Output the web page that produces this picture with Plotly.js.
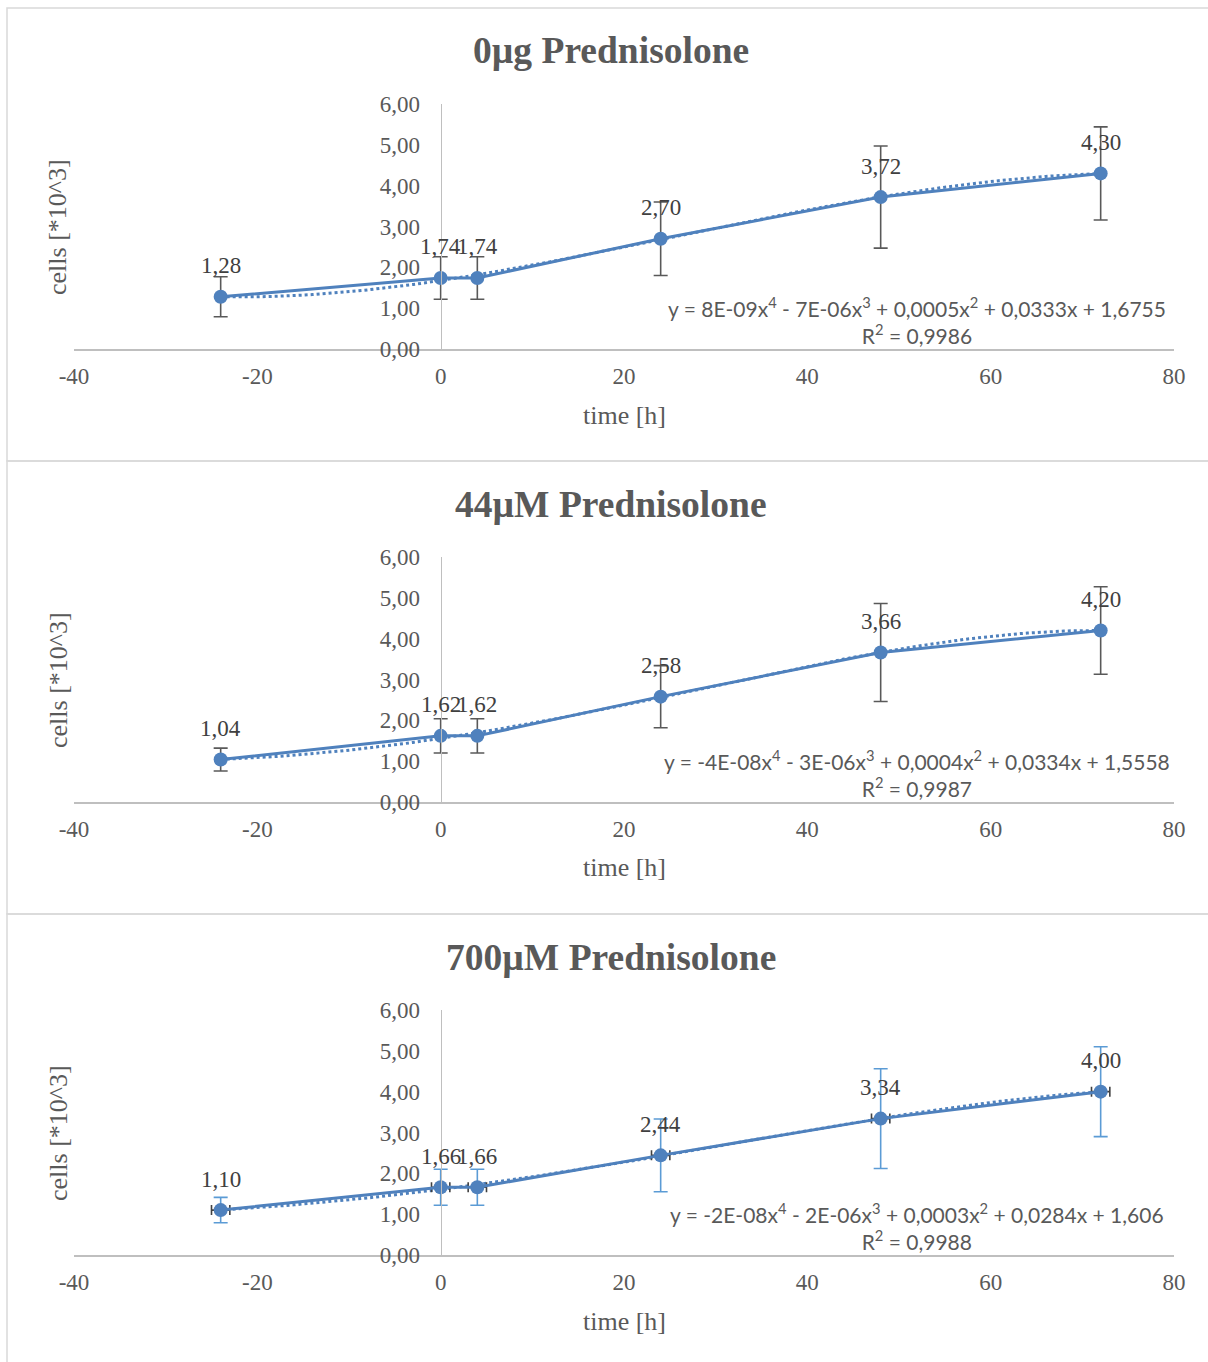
<!DOCTYPE html>
<html>
<head>
<meta charset="utf-8">
<script src="https://cdn.plot.ly/plotly-3.0.1.min.js"></script>
<style>html,body{margin:0;padding:0;background:#fff;}#chart{width:1208px;height:1362px;}</style>
</head>
<body>
<div id="chart"></div>
<script>
// ---- data ----
const timeH = [-24, 0, 4, 24, 48, 72];
const cells0 = [1.28, 1.74, 1.74, 2.70, 3.72, 4.30];
const err0 = [0.49, 0.52, 0.52, 0.90, 1.25, 1.14];
const cells44 = [1.04, 1.62, 1.62, 2.58, 3.66, 4.20];
const err44 = [0.28, 0.42, 0.42, 0.76, 1.20, 1.07];
const cells700 = [1.10, 1.66, 1.66, 2.44, 3.34, 4.00];
const err700 = [0.31, 0.44, 0.44, 0.89, 1.22, 1.10];
const xerr700 = [1, 1, 1, 1, 1, 1];
const chartTitles = ['0µg Prednisolone', '44µM Prednisolone', '700µM Prednisolone'];
const equations = [
  'y = 8E-09x<sup>4</sup> - 7E-06x<sup>3</sup> + 0,0005x<sup>2</sup> + 0,0333x + 1,6755<br>R<sup>2</sup> = 0,9986',
  'y = -4E-08x<sup>4</sup> - 3E-06x<sup>3</sup> + 0,0004x<sup>2</sup> + 0,0334x + 1,5558<br>R<sup>2</sup> = 0,9987',
  'y = -2E-08x<sup>4</sup> - 2E-06x<sup>3</sup> + 0,0003x<sup>2</sup> + 0,0284x + 1,606<br>R<sup>2</sup> = 0,9988'
];
const xTicks = [-40, -20, 0, 20, 40, 60, 80];
const xTickText = ['-40', '-20', '0', '20', '40', '60', '80'];
const yTicks = [0, 1, 2, 3, 4, 5, 6];
const xTitle = 'time [h]';
const yTitle = 'cells [*10^3]';

// ---- styles ----
const W = 1208, H = 1362;
const SERIF = '"Liberation Serif", "Times New Roman", serif';
const SANS = 'Lato, "Open Sans", sans-serif';
const BLUE = '#4F81BD';
const GRAY = '#595959';
const px = v => v / W;
const py = v => 1 - v / H;

// degree-4 least squares trendline (like Excel polynomial trendline)
function polyFit(xs, ys, deg) {
  const s = 72;
  const n = deg + 1;
  const A = [], b = [];
  for (let i = 0; i < n; i++) { A.push(new Array(n).fill(0)); b.push(0); }
  xs.forEach((x, k) => {
    const t = x / s;
    for (let i = 0; i < n; i++) {
      b[i] += ys[k] * Math.pow(t, i);
      for (let j = 0; j < n; j++) A[i][j] += Math.pow(t, i + j);
    }
  });
  for (let i = 0; i < n; i++) {
    let p = i;
    for (let r = i + 1; r < n; r++) if (Math.abs(A[r][i]) > Math.abs(A[p][i])) p = r;
    [A[i], A[p]] = [A[p], A[i]]; [b[i], b[p]] = [b[p], b[i]];
    for (let r = i + 1; r < n; r++) {
      const f = A[r][i] / A[i][i];
      for (let c = i; c < n; c++) A[r][c] -= f * A[i][c];
      b[r] -= f * b[i];
    }
  }
  const c = new Array(n).fill(0);
  for (let i = n - 1; i >= 0; i--) {
    let sum = b[i];
    for (let j = i + 1; j < n; j++) sum -= A[i][j] * c[j];
    c[i] = sum / A[i][i];
  }
  return x => c.reduce((acc, ci, i) => acc + ci * Math.pow(x / s, i), 0);
}

const series = [
  {y: cells0, e: err0, ex: null, ecol: '#595959'},
  {y: cells44, e: err44, ex: null, ecol: '#595959'},
  {y: cells700, e: err700, ex: xerr700, ecol: '#5B9BD5'}
];

const traces = [];
const annotations = [];
const shapes = [];
const layout = {
  width: W, height: H,
  margin: {l: 0, r: 0, t: 0, b: 0},
  paper_bgcolor: '#ffffff', plot_bgcolor: 'rgba(0,0,0,0)',
  showlegend: false,
  separators: ', ',
  font: {family: SERIF, color: GRAY, size: 22}
};

series.forEach((s, k) => {
  const off = k * 453;
  const xa = 'xaxis' + (k ? k + 1 : ''), ya = 'yaxis' + (k ? k + 1 : '');
  const xr = 'x' + (k ? k + 1 : ''), yr = 'y' + (k ? k + 1 : '');
  layout[xa] = {
    domain: [px(74), px(1174)], anchor: yr, range: [-40, 80],
    tickvals: xTicks, ticktext: xTickText, ticks: '', showgrid: false, zeroline: false,
    showline: true, linecolor: '#BFBFBF', linewidth: 1.5,
    tickfont: {family: SERIF, size: 23, color: GRAY}, ticklabelstandoff: 6
  };
  layout[ya] = {
    domain: [py(349 + off), py(104 + off)], anchor: 'free', position: px(440.7),
    range: [0, 6], tickvals: yTicks, tickformat: '.2f', ticks: '', showgrid: false, zeroline: false,
    showline: true, linecolor: '#BFBFBF', linewidth: 1.5,
    tickfont: {family: SERIF, size: 23, color: GRAY}, ticklabelstandoff: 16
  };
  // trendline
  const f = polyFit(timeH, s.y, 4);
  const tx = [], ty = [];
  for (let x = timeH[0]; x <= timeH[timeH.length - 1]; x += 1) { tx.push(x); ty.push(f(x)); }
  traces.push({
    x: tx, y: ty, xaxis: xr, yaxis: yr, type: 'scatter', mode: 'lines',
    line: {color: BLUE, width: 3, dash: 'dot'}, hoverinfo: 'skip'
  });
  const tr = {
    x: timeH, y: s.y, xaxis: xr, yaxis: yr, type: 'scatter', mode: 'lines+markers',
    line: {color: BLUE, width: 3}, marker: {color: BLUE, size: 14},
    error_y: {type: 'data', array: s.e, visible: true, color: s.ecol, thickness: 1.6, width: 7}
  };
  if (s.ex) tr.error_x = {type: 'data', array: s.ex, visible: true, color: '#404040', thickness: 1.6, width: 5};
  traces.push(tr);
  // data labels
  timeH.forEach((x, i) => {
    annotations.push({
      x: x, y: s.y[i], xref: xr, yref: yr, showarrow: false, yshift: 31, yanchor: 'middle',
      text: s.y[i].toFixed(2).replace('.', ','), font: {family: SERIF, size: 23, color: '#404040'}
    });
  });
  // title
  annotations.push({
    x: px(611), y: py(51 + off), xref: 'paper', yref: 'paper', showarrow: false,
    xanchor: 'center', yanchor: 'middle', text: '<b>' + chartTitles[k] + '</b>',
    font: {family: SERIF, size: 37.5, color: GRAY}
  });
  // axis titles
  annotations.push({
    x: px(624), y: py(415 + off), xref: 'paper', yref: 'paper', showarrow: false,
    xanchor: 'center', yanchor: 'middle', text: xTitle, font: {family: SERIF, size: 26, color: GRAY}
  });
  annotations.push({
    x: px(58), y: py(227 + off), xref: 'paper', yref: 'paper', showarrow: false, textangle: -90,
    xanchor: 'center', yanchor: 'middle', text: yTitle, font: {family: SERIF, size: 26, color: GRAY}
  });
  // equation
  annotations.push({
    x: px(917), y: py(320 + off), xref: 'paper', yref: 'paper', showarrow: false,
    xanchor: 'center', yanchor: 'middle', align: 'center', text: equations[k],
    font: {family: SANS, size: 21, color: GRAY}
  });
  // chart border
  shapes.push({
    type: 'rect', xref: 'paper', yref: 'paper', x0: px(7), x1: px(1220), y0: py(8 + off + 453), y1: py(8 + off),
    line: {color: '#D9D9D9', width: 1.5}, fillcolor: 'rgba(0,0,0,0)', layer: 'below'
  });
});
layout.annotations = annotations;
layout.shapes = shapes;

Plotly.newPlot('chart', traces, layout, {staticPlot: true, displayModeBar: false});
</script>
</body>
</html>
